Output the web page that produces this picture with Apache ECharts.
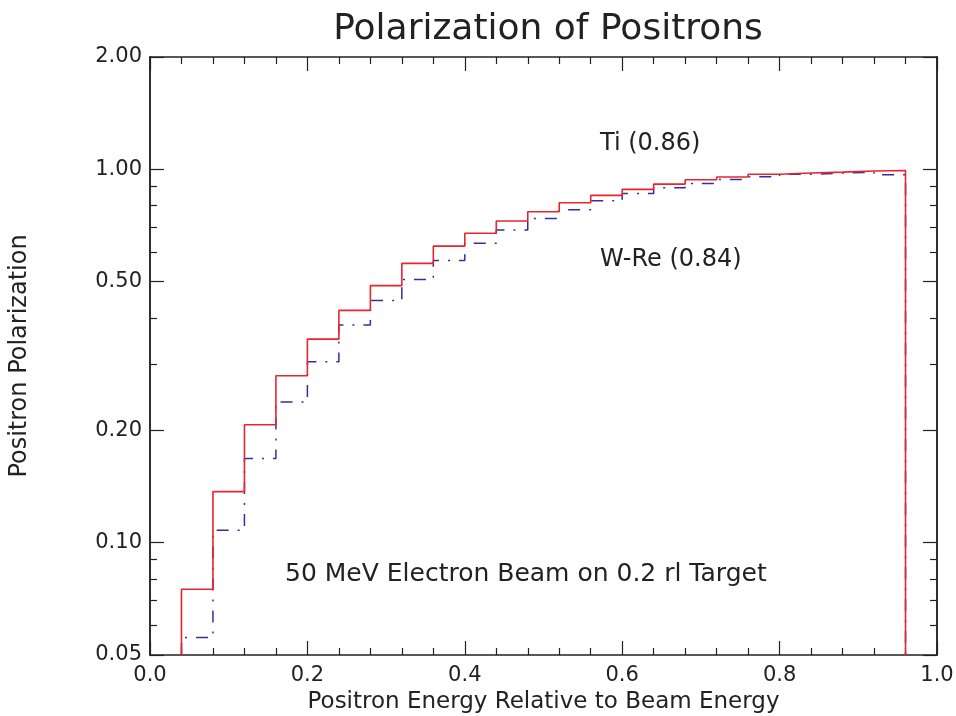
<!DOCTYPE html>
<html>
<head>
<meta charset="utf-8">
<script src="https://cdn.jsdelivr.net/npm/echarts@6/dist/echarts.min.js"></script>
<style>
html,body{margin:0;padding:0;background:#fff}
#chart{width:956px;height:716px}
</style>
</head>
<body>
<div id="chart"></div>
<script>
// bin edges of the histogram (energy fraction)
var binEdges = [0.04,0.08,0.12,0.16,0.20,0.24,0.28,0.32,0.36,0.40,0.44,0.48,0.52,0.56,0.60,0.64,0.68,0.72,0.76,0.80,0.84,0.88,0.92,0.96];
// Ti target (0.86)
var tiValues = [0.075,0.137,0.207,0.280,0.351,0.419,0.488,0.560,0.623,0.674,0.727,0.770,0.814,0.852,0.884,0.913,0.938,0.954,0.970,0.978,0.983,0.990,0.993];
// W-Re target (0.84)
var wreValues = [0.0557,0.108,0.168,0.238,0.305,0.383,0.445,0.507,0.570,0.634,0.688,0.739,0.780,0.824,0.862,0.893,0.917,0.940,0.955,0.970,0.978,0.983,0.967];
var yMin = 0.05, yMax = 2;
var yLabelValues = [0.05,0.1,0.2,0.5,1,2];
var yMinorValues = [0.06,0.07,0.08,0.09,0.3,0.4,0.6,0.7,0.8,0.9];

function stepData(edges, vals) {
  var d = [[edges[0], yMin]];
  for (var i = 0; i < vals.length; i++) d.push([edges[i], vals[i]]);
  d.push([edges[edges.length-1], vals[vals.length-1]]);
  d.push([edges[edges.length-1], yMin]);
  return d;
}

var font = 'DejaVu Sans';
var ink = '#222';
var lineSt = {show:true, onZero:false, lineStyle:{color:ink, width:1.5}};

function xAx(pos, labels) {
  return {
    type:'value', position:pos, min:0, max:1, interval:0.2,
    axisLine:lineSt,
    axisTick:{show:true, inside:true, length:14, lineStyle:{color:ink, width:1.2}},
    minorTick:{show:true, splitNumber:5, length:7, lineStyle:{color:ink, width:1.2}},
    splitLine:{show:false}, minorSplitLine:{show:false},
    axisLabel:{show:labels, margin:10, fontFamily:font, fontSize:21, color:ink,
      formatter:function(v){return v.toFixed(1);}},
    name: labels ? 'Positron Energy Relative to Beam Energy' : '',
    nameLocation:'middle', nameGap:35,
    nameTextStyle:{fontFamily:font, fontSize:23, color:ink}
  };
}
function yAx(pos, vals, len, labels) {
  return {
    type:'log', logBase:10, position:pos, min:yMin, max:yMax,
    axisLine:lineSt,
    axisTick:{show:true, inside:true, length:len, customValues:vals, lineStyle:{color:ink, width:1.2}},
    splitLine:{show:false}, minorTick:{show:false},
    axisLabel:{show:labels, customValues:vals, margin:8, fontFamily:font, fontSize:21, color:ink,
      formatter:function(v){return (+v).toFixed(2);}},
    name: labels ? 'Positron Polarization' : '',
    nameLocation:'middle', nameGap:118, nameRotate:90,
    nameTextStyle:{fontFamily:font, fontSize:24, color:ink}
  };
}

var chart = echarts.init(document.getElementById('chart'), null, {renderer:'canvas'});
chart.setOption({
  animation:false,
  backgroundColor:'#fff',
  title:{text:'Polarization of Positrons', left:543, top:7, textAlign:'center',
    textStyle:{fontFamily:font, fontSize:36, fontWeight:'normal', color:ink}},
  grid:{left:150, right:19, top:57, bottom:61, containLabel:false, outerBoundsMode:'none'},
  xAxis:[xAx('bottom', true), xAx('top', false)],
  yAxis:[
    yAx('left', yLabelValues, 14, true),
    yAx('left', yMinorValues, 7, false),
    yAx('right', yLabelValues, 14, false),
    yAx('right', yMinorValues, 7, false)
  ],
  series:[
    {type:'line', name:'W-Re', step:'end', data:stepData(binEdges, wreValues), symbol:'none',
      lineStyle:{color:'#3a2c9c', width:1.5, type:[12,9,2,9]}},
    {type:'line', name:'Ti', step:'end', data:stepData(binEdges, tiValues), symbol:'none',
      lineStyle:{color:'#e8252f', width:1.6}}
  ],
  graphic:[
    {type:'text', left:600, top:132, style:{text:'Ti (0.86)', fontFamily:font, fontSize:24, fill:ink}},
    {type:'text', left:600, top:248, style:{text:'W-Re (0.84)', fontFamily:font, fontSize:24, fill:ink}},
    {type:'text', left:285, top:562, style:{text:'50 MeV Electron Beam on 0.2 rl Target', fontFamily:font, fontSize:25, fill:ink}}
  ]
});
</script>
</body>
</html>
